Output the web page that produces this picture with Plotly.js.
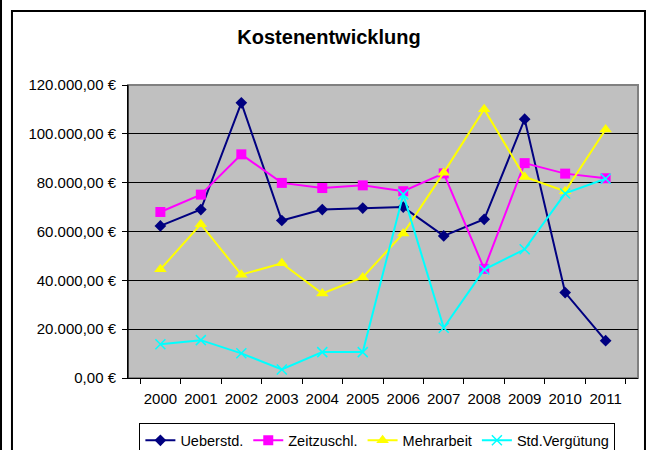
<!DOCTYPE html>
<html>
<head>
<meta charset="utf-8">
<script src="https://cdn.plot.ly/plotly-3.0.1.min.js"></script>
<style>html,body{margin:0;padding:0;background:#fff;overflow:hidden;}#chart{width:652px;height:490px;}</style>
</head>
<body>
<div id="chart"></div>
<script>
const years = ['2000','2001','2002','2003','2004','2005','2006','2007','2008','2009','2010','2011'];
const ueberstd = [62300, 69000, 112700, 64500, 69000, 69600, 70000, 58200, 65000, 106000, 35000, 15300];
const zeitzuschl = [68000, 75100, 91600, 79900, 77800, 78900, 76500, 83800, 44700, 88000, 83700, 81800];
const mehrarbeit = [44500, 63000, 42300, 47000, 34600, 41200, 59200, 84100, 110100, 82300, 76500, 101800];
const stdVerguetung = [13800, 15500, 10100, 3500, 10600, 10600, 75200, 20600, 44400, 52700, 75600, 81600];
const seriesNames = ['Ueberstd.', 'Zeitzuschl.', 'Mehrarbeit', 'Std.Vergütung'];
const yTickVals = [0, 20000, 40000, 60000, 80000, 100000, 120000];
const yTickLabels = ['0,00 €', '20.000,00 €', '40.000,00 €', '60.000,00 €', '80.000,00 €', '100.000,00 €', '120.000,00 €'];

const fontFam = '"Liberation Sans", Arial, sans-serif';

const traces = [
  {x: years, y: ueberstd, name: seriesNames[0], type: 'scatter', mode: 'lines+markers',
   line: {color: '#000080', width: 2}, marker: {symbol: 'diamond', size: 9, color: '#000080'}},
  {x: years, y: zeitzuschl, name: seriesNames[1], type: 'scatter', mode: 'lines+markers',
   line: {color: '#FF00FF', width: 2}, marker: {symbol: 'square', size: 10, color: '#FF00FF'}},
  {x: years, y: mehrarbeit, name: seriesNames[2], type: 'scatter', mode: 'lines+markers',
   line: {color: '#FFFF00', width: 2}, marker: {symbol: 'triangle-up', size: 11, color: '#FFFF00'}},
  {x: years, y: stdVerguetung, name: seriesNames[3], type: 'scatter', mode: 'lines+markers',
   line: {color: '#00FFFF', width: 2}, marker: {symbol: 'x-thin-open', size: 10, color: '#00FFFF', line: {color: '#00FFFF', width: 1.5}}}
];

const H = 490;
const layout = {
  width: 652, height: H,
  paper_bgcolor: '#ffffff',
  plot_bgcolor: '#C0C0C0',
  margin: {l: 128, r: 14, t: 85, b: H - 378},
  font: {family: fontFam, size: 14.5, color: '#000'},
  title: {text: 'Kostenentwicklung', font: {family: fontFam, size: 20, color: '#000', weight: 'bold'},
          x: 0.5046, xref: 'container', y: 1 - 37 / H, yref: 'container', yanchor: 'middle', xanchor: 'center'},
  xaxis: {type: 'category', showgrid: false, showline: true, linecolor: '#000', linewidth: 1,
          ticks: 'outside', tickson: 'boundaries', ticklen: 5, tickcolor: '#000', tickangle: 0,
          ticklabelstandoff: 7, tickfont: {size: 15}, zeroline: false, fixedrange: true},
  yaxis: {range: [0, 120000], tickmode: 'array', tickvals: yTickVals, ticktext: yTickLabels,
          showgrid: true, gridcolor: '#000', gridwidth: 1, showline: true, linecolor: '#000', linewidth: 1,
          ticks: 'outside', ticklen: 5, tickcolor: '#000', ticklabelstandoff: 3,
          tickfont: {size: 15}, zeroline: false, fixedrange: true},
  showlegend: true,
  legend: {orientation: 'h', x: 0.489, xanchor: 'center', y: -0.155, yanchor: 'top',
           bordercolor: '#000', borderwidth: 1, bgcolor: '#fff', font: {size: 14.5},
           itemwidth: 30, tracegroupgap: 0},
  shapes: [
    {type: 'rect', xref: 'paper', yref: 'paper', x0: 0, x1: 1, y0: 0, y1: 1,
     line: {color: '#808080', width: 2}, layer: 'below'},
    {type: 'line', xref: 'paper', yref: 'paper', x0: 0, x1: 0, y0: 0, y1: 1,
     line: {color: '#000', width: 1}},
    {type: 'rect', xref: 'paper', yref: 'paper', x0: -0.2275, x1: 1.0137, y0: -0.4, y1: 1.2526,
     line: {color: '#000', width: 2}},
    {type: 'line', xref: 'paper', yref: 'paper', x0: -0.249, x1: -0.249, y0: -0.4, y1: 1.3,
     line: {color: '#000', width: 2}}
  ]
};

Plotly.newPlot('chart', traces, layout, {staticPlot: true, displayModeBar: false});
</script>
</body>
</html>
